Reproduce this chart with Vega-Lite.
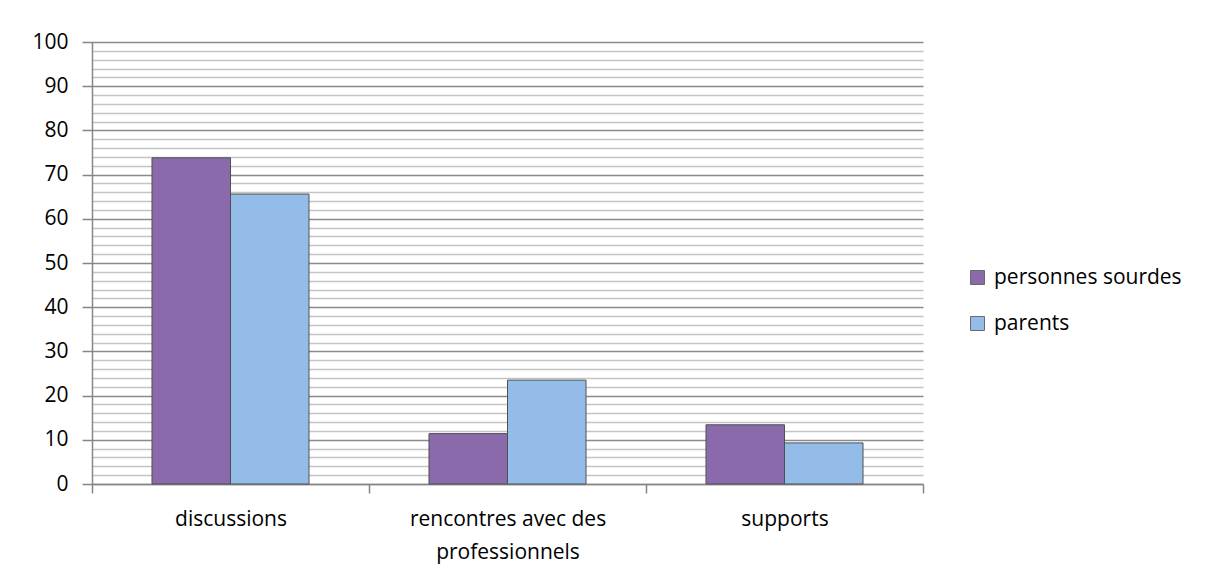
{
  "$schema": "https://vega.github.io/schema/vega-lite/v6.json",
  "width": 831,
  "height": 442,
  "autosize": "none",
  "padding": {"left": 92, "top": 42, "right": 284, "bottom": 93},
  "background": "white",
  "data": {
    "values": [
      {"categorie": "discussions", "groupe": "personnes sourdes", "valeur": 73.8},
      {"categorie": "discussions", "groupe": "parents", "valeur": 65.6},
      {"categorie": "rencontres avec des professionnels", "groupe": "personnes sourdes", "valeur": 11.4},
      {"categorie": "rencontres avec des professionnels", "groupe": "parents", "valeur": 23.5},
      {"categorie": "supports", "groupe": "personnes sourdes", "valeur": 13.4},
      {"categorie": "supports", "groupe": "parents", "valeur": 9.3}
    ]
  },
  "mark": {"type": "bar", "stroke": "#505050", "strokeWidth": 1},
  "encoding": {
    "x": {
      "field": "categorie",
      "type": "nominal",
      "sort": null,
      "scale": {"paddingInner": 0, "paddingOuter": 0},
      "axis": {
        "title": null,
        "labelAngle": 0,
        "labelFont": "Open Sans",
        "labelFontSize": 21,
        "labelColor": "#000000",
        "labelPadding": 15,
        "labelLineHeight": 33,
        "labelLimit": 0,
        "labelExpr": "datum.label == 'rencontres avec des professionnels' ? ['rencontres avec des', 'professionnels'] : datum.label",
        "tickBand": "extent",
        "tickSize": 9,
        "tickColor": "#868686",
        "tickWidth": 1.5,
        "domainColor": "#868686",
        "domainWidth": 1.5,
        "grid": false
      }
    },
    "xOffset": {
      "field": "groupe",
      "type": "nominal",
      "sort": ["personnes sourdes", "parents"],
      "scale": {"paddingInner": 0, "paddingOuter": 0.764}
    },
    "y": {
      "field": "valeur",
      "type": "quantitative",
      "scale": {"domain": [0, 100], "nice": false, "zero": true},
      "axis": {
        "title": null,
        "values": [0, 2, 4, 6, 8, 10, 12, 14, 16, 18, 20, 22, 24, 26, 28, 30, 32, 34, 36, 38, 40, 42, 44, 46, 48, 50, 52, 54, 56, 58, 60, 62, 64, 66, 68, 70, 72, 74, 76, 78, 80, 82, 84, 86, 88, 90, 92, 94, 96, 98, 100],
        "labelExpr": "datum.value % 10 === 0 ? datum.label : ''",
        "labelFont": "Open Sans",
        "labelFontSize": 21,
        "labelColor": "#000000",
        "labelPadding": 14,
        "tickSize": 10,
        "tickColor": "#868686",
        "tickWidth": 1.5,
        "tickOpacity": {"condition": {"test": "datum.value % 10 === 0", "value": 1}, "value": 0},
        "domainColor": "#868686",
        "domainWidth": 1.5,
        "grid": true,
        "gridColor": {"condition": {"test": "datum.value % 10 === 0", "value": "#8a8a8a"}, "value": "#c4c4c4"},
        "gridWidth": 1.5,
        "gridOpacity": 1
      }
    },
    "color": {
      "field": "groupe",
      "type": "nominal",
      "sort": ["personnes sourdes", "parents"],
      "scale": {"domain": ["personnes sourdes", "parents"], "range": ["#8a6aaa", "#94bce9"]},
      "legend": {
        "title": null,
        "orient": "none",
        "legendX": 875,
        "legendY": 225,
        "symbolType": "square",
        "symbolSize": 196,
        "symbolStrokeColor": "#6a6a6a",
        "symbolStrokeWidth": 1,
        "symbolOpacity": 1,
        "labelFont": "Open Sans",
        "labelFontSize": 21,
        "labelColor": "#000000",
        "labelOffset": 6,
        "labelLimit": 400,
        "rowPadding": 24,
        "padding": 0
      }
    }
  },
  "config": {
    "view": {"stroke": null},
    "axis": {"labelFontWeight": "normal"}
  }
}
